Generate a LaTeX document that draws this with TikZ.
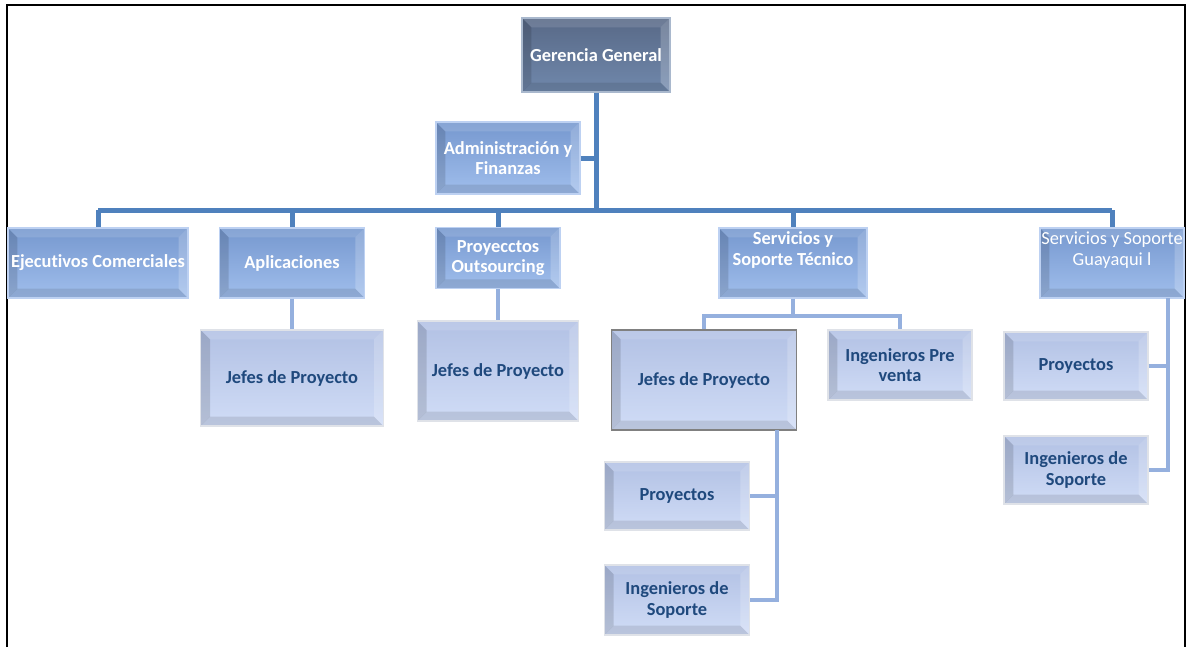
\documentclass[tikz,border=0pt]{standalone}
\usepackage{fontspec}
\setmainfont{Carlito}[Ligatures=NoCommon]
\usetikzlibrary{calc}
\definecolor{busblue}{RGB}{79,129,189}
\definecolor{subblue}{RGB}{149,176,222}
\definecolor{ggtop}{RGB}{88,105,135}
\definecolor{ggbot}{RGB}{112,136,172}
\definecolor{midtop}{RGB}{118,152,207}
\definecolor{midbot}{RGB}{160,190,236}
\definecolor{lowtop}{RGB}{178,193,228}
\definecolor{lowbot}{RGB}{208,220,246}
\definecolor{lowtext}{RGB}{31,73,125}
\begin{document}
\begin{tikzpicture}[
  x=0.75pt, y=-0.75pt,
  every node/.style={align=center, inner sep=1pt, font=\fontsize{13.8}{15.5}\selectfont\bfseries},
  bevel/.style={path picture={
    \coordinate (bnw) at (path picture bounding box.north west);
    \coordinate (bse) at (path picture bounding box.south east);
    \coordinate (bne) at (bse|-bnw);
    \coordinate (bsw) at (bnw|-bse);
    \fill[black,opacity=.13] (bnw) -- (bsw) -- ($(bsw)+(7pt,7pt)$) -- ($(bnw)+(7pt,-7pt)$) -- cycle;
    \fill[black,opacity=.10] (bsw) -- (bse) -- ($(bse)+(-7pt,7pt)$) -- ($(bsw)+(7pt,7pt)$) -- cycle;
    \fill[white,opacity=.12] (bnw) -- (bne) -- ($(bne)+(-7pt,-7pt)$) -- ($(bnw)+(7pt,-7pt)$) -- cycle;
    \fill[white,opacity=.20] (bne) -- (bse) -- ($(bse)+(-7pt,7pt)$) -- ($(bne)+(-7pt,-7pt)$) -- cycle;
  }},
  topbox/.style={bevel, draw=ggbot!60!white, line width=1pt, top color=ggtop, bottom color=ggbot, text=white},
  midbox/.style={bevel, draw=midbot!70!white, line width=1pt, top color=midtop, bottom color=midbot, text=white},
  lowbox/.style={bevel, draw=lowbot!60!gray!40!white, line width=1pt, top color=lowtop, bottom color=lowbot, text=lowtext},
  busline/.style={draw=busblue, line width=3.75pt},
  subline/.style={draw=subblue, line width=3pt}
]
\useasboundingbox (0,0) rectangle (1190,647);
\draw[line width=1.2pt] (7,647) -- (7,5) -- (1185,5) -- (1185,647);

\node[topbox, minimum width=111pt, minimum height=55.5pt] (gg) at (596,55) {Gerencia General};
\node[midbox, minimum width=108pt, minimum height=54pt] (adm) at (508,158) {Administración y\\Finanzas};

\node[midbox, minimum width=135pt, minimum height=52.5pt] (ejec) at (98,263) {Ejecutivos Comerciales};
\node[midbox, minimum width=109pt, minimum height=52.5pt] (apl) at (292,263) {Aplicaciones};
\node[midbox, minimum width=93pt, minimum height=46pt] (outs) at (498,258) {Proyecctos\\Outsourcing};
\node[midbox, minimum width=111pt, minimum height=52.5pt] (serv) at (793,263) {Servicios y\\Soporte Técnico\\[6pt]~};
\node[midbox, minimum width=108pt, minimum height=52.5pt, font=\fontsize{13.8}{15.5}\selectfont] (guay) at (1112,263) {Servicios y Soporte\\Guayaqui l\\[6pt]~};

\node[lowbox, minimum width=137pt, minimum height=72pt] (jpapl) at (292,378) {Jefes de Proyecto};
\node[lowbox, minimum width=121pt, minimum height=75pt] (jpout) at (498,371) {Jefes de Proyecto};
\node[lowbox, draw=gray, minimum width=139pt, minimum height=75pt] (jpserv) at (704,380) {Jefes de Proyecto};
\node[lowbox, minimum width=108pt, minimum height=52.5pt] (prev) at (900,365) {Ingenieros Pre\\venta};
\node[lowbox, minimum width=109pt, minimum height=51pt] (proyserv) at (677,496) {Proyectos};
\node[lowbox, minimum width=109pt, minimum height=52.5pt] (ingserv) at (677,600) {Ingenieros de\\Soporte};
\node[lowbox, minimum width=108pt, minimum height=51pt] (proyguay) at (1076,366) {Proyectos};
\node[lowbox, minimum width=108pt, minimum height=51pt] (ingguay) at (1076,470) {Ingenieros de\\Soporte};

\coordinate (busl) at (98,210);
\coordinate (busr) at (1112,210);
\coordinate (servfork) at (793,316);
\coordinate (jpx) at (777,430);
\coordinate (guayx) at (1168,298);

\draw[busline] (gg.south) -- (gg.south |- busl);
\draw[busline] (adm.east) -- (adm.east -| gg.south);
\draw[busline] (busl) -- (busr);
\foreach \n in {ejec,apl,outs,serv,guay}
  \draw[busline] (\n.north |- busl) -- (\n.north);

\draw[subline] (apl.south) -- (jpapl.north);
\draw[subline] (outs.south) -- (jpout.north);
\draw[subline] (serv.south) -- (servfork);
\draw[subline] (jpserv.north) |- (servfork) -| (prev.north);
\draw[subline] (jpx) |- (ingserv.east);
\draw[subline] (proyserv.east) -- (proyserv.east -| jpx);
\draw[subline] (guayx) |- (ingguay.east);
\draw[subline] (proyguay.east) -- (proyguay.east -| guayx);
\end{tikzpicture}
\end{document}
